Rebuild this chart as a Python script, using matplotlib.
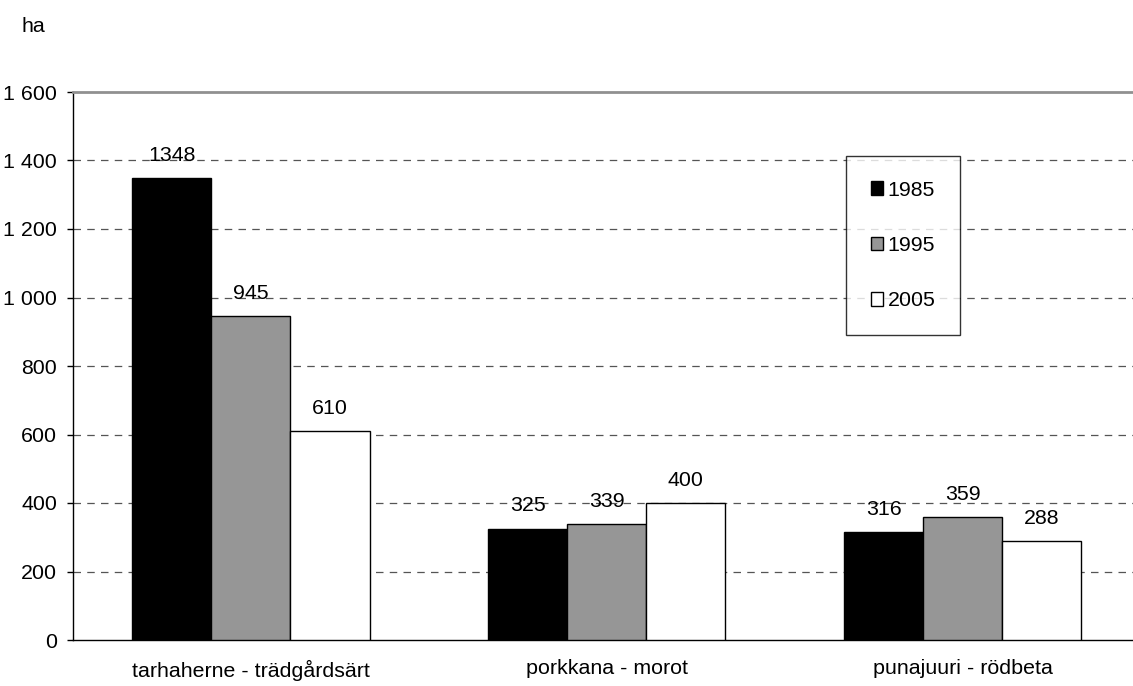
import matplotlib
matplotlib.use("Agg")
import matplotlib.pyplot as plt
import numpy as np

categories = ["tarhaherne - trädgårdsärt", "porkkana - morot", "punajuuri - rödbeta"]
years = ["1985", "1995", "2005"]
v1985 = [1348, 325, 316]
v1995 = [945, 339, 359]
v2005 = [610, 400, 288]
yticks = [0, 200, 400, 600, 800, 1000, 1200, 1400, 1600]
ytick_labels = ["0", "200", "400", "600", "800", "1 000", "1 200", "1 400", "1 600"]

plt.rcParams['font.family'] = ['Liberation Sans', 'DejaVu Sans']
FS = 15.4

fig = plt.figure(figsize=(11.33, 6.86), dpi=100)
ax = fig.add_axes([73/1133, 46/686, 1 - 73/1133, 548/686])

series = [v1985, v1995, v2005]
colors = ["#000000", "#969696", "#ffffff"]
w = 0.222
x = np.arange(len(categories))
for i, (vals, c, lab) in enumerate(zip(series, colors, years)):
    bars = ax.bar(x + (i - 1) * w, vals, w, color=c, edgecolor="black", linewidth=1.0,
                  label=lab, zorder=3)
    for b, v in zip(bars, vals):
        ax.annotate(str(v), (b.get_x() + b.get_width() / 2, v), xytext=(0, 9.5),
                    textcoords="offset points", ha="center", va="bottom", fontsize=FS, zorder=4)

ax.set_xlim(-0.5, 2.478)
ax.set_ylim(0, 1600)
ax.set_yticks(yticks)
ax.set_yticklabels(ytick_labels, fontsize=FS)
ax.set_xticks(x)
ax.set_xticklabels(categories, fontsize=FS)
ax.tick_params(axis="x", length=0, pad=14)
ax.tick_params(axis="y", length=4.5, width=1, pad=7, direction="out")

for yv in yticks[1:-1]:
    ax.axhline(yv, color="#555555", linestyle=(0, (6, 5)), linewidth=0.9, zorder=1)

ax.spines["right"].set_visible(False)
ax.spines["top"].set_color("#909090")
ax.spines["top"].set_linewidth(2)
ax.spines["left"].set_linewidth(1)
ax.spines["bottom"].set_linewidth(1)

leg = ax.legend(loc="upper left", bbox_to_anchor=((846 - 73) / 1060, (640 - 156) / 548),
                fontsize=FS, frameon=True, fancybox=False, edgecolor="black",
                handlelength=0.6, handleheight=0.6, handletextpad=0.2, labelspacing=1.7,
                borderpad=1.15, borderaxespad=0)
leg.get_frame().set_linewidth(1)

fig.text(22/1133, 1 - 27/686, "ha", fontsize=FS, va="center", ha="left")

fig.savefig("out.png", dpi=100)
